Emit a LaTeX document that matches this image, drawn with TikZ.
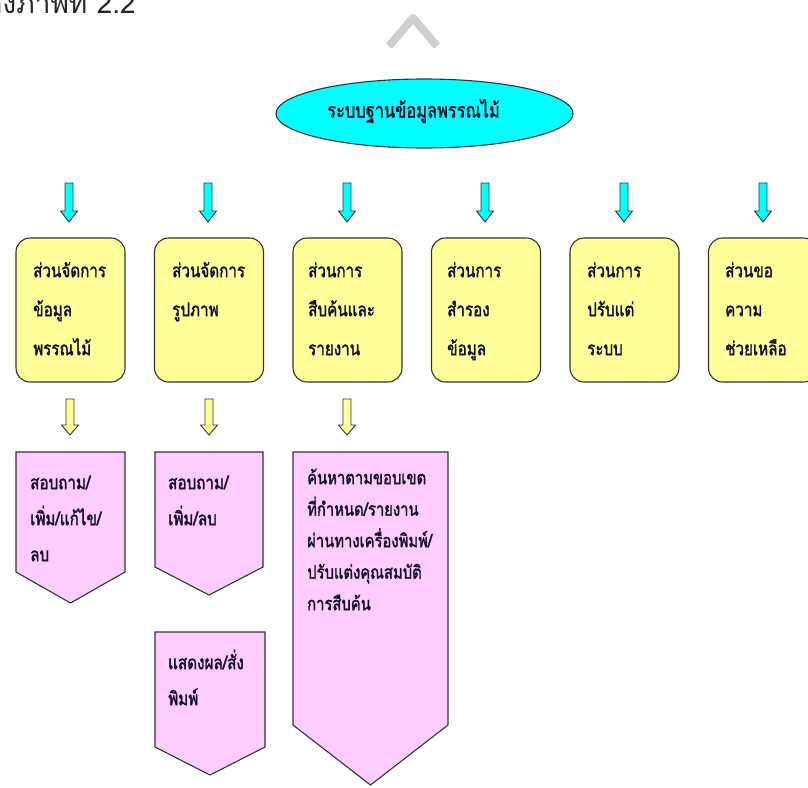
\documentclass[tikz,border=0pt]{standalone}
\usepackage{fontspec}
\usetikzlibrary{shapes.geometric,calc}
\newfontfamily\thaicap[Script=Thai]{Loma}
\newfontfamily\thaib[Script=Thai,FakeBold=1.6,FakeStretch=0.8]{Loma}

% block arrow pointing down: centre x, top y, tip y, head length, style
\newcommand\blockdown[5]{%
  \draw[#5] ({#1-4},#2) -- ({#1+4},#2) -- ({#1+4},{#3-#4}) -- ({#1+8.5},{#3-#4})
    -- (#1,#3) -- ({#1-8.5},{#3-#4}) -- ({#1-4},{#3-#4}) -- cycle;}
% pentagon pointing down: left, right, top, side bottom, tip
\newcommand\pentagondown[5]{%
  \draw[pentbox] (#1,#3) -- (#2,#3) -- (#2,#4) -- ({(#1+#2)/2},#5) -- (#1,#4) -- cycle;}

\begin{document}
\begin{tikzpicture}[x=1pt,y=-1pt,
  outline/.style={draw=black!80,line width=1.1pt},
  ybox/.style={outline,fill=yellowfill,rounded corners=14pt,minimum width=109pt,minimum height=144pt,inner sep=0pt},
  pentbox/.style={outline,fill=pinkfill,line join=miter},
  cyanarrow/.style={outline,line width=0.9pt,fill=cyanfill},
  yelarrow/.style={outline,line width=0.9pt,fill=yellowfill},
  boxtext/.style={anchor=north west,inner sep=0pt,align=left,text=textcol,
    font=\thaib\fontsize{19}{39}\selectfont},
  pinktext/.style={anchor=north west,inner sep=0pt,align=left,text=textcol,
    font=\thaib\fontsize{19}{36}\selectfont},
]
\definecolor{yellowfill}{HTML}{FFFF99}
\definecolor{pinkfill}{HTML}{FFCCFF}
\definecolor{cyanfill}{HTML}{00FFFF}
\definecolor{textcol}{HTML}{10102A}
\clip (0,0) rectangle (808,787);
\fill[white] (0,0) rectangle (808,787);

% caption and page marker
\node[anchor=base east,inner sep=0pt,font=\thaicap\fontsize{28}{30}\selectfont,text=black!85] (cap) at (136,13) {ดังภาพที่ 2.2};
\draw[black!19,line width=8pt,line join=round] (389,46) -- (413,18) -- (437,46);

% root
\node[ellipse,outline,fill=cyanfill,minimum width=297pt,minimum height=69pt] (db) at (424.5,113.5) {};
\node[inner sep=0pt,text=textcol,font=\thaib\fontsize{20.5}{22}\selectfont] (dbt) at (413.5,111) {ระบบฐานข้อมูลพรรณไม้};

% first-level arrows
\foreach \cx in {69,208,347,485,624,763}{\blockdown{\cx}{183}{222}{11}{cyanarrow}}

% first-level boxes
\node[ybox] (s1) at (70.5,310) {};
\node[ybox] (s2) at (209,310) {};
\node[ybox] (s3) at (347.5,310) {};
\node[ybox] (s4) at (486,310) {};
\node[ybox] (s5) at (624.5,310) {};
\node[ybox] (s6) at (763,310) {};

\node[boxtext] (t1) at (33,255) {\rule{0pt}{22pt}ส่วนจัดการ\\ข้อมูล\\พรรณไม้};
\node[boxtext] (t2) at (172,255) {\rule{0pt}{22pt}ส่วนจัดการ\\รูปภาพ};
\node[boxtext] (t3) at (308,255) {\rule{0pt}{22pt}ส่วนการ\\สืบค้นและ\\รายงาน};
\node[boxtext] (t4) at (447,255) {\rule{0pt}{22pt}ส่วนการ\\สำรอง\\ข้อมูล};
\node[boxtext] (t5) at (587,255) {\rule{0pt}{22pt}ส่วนการ\\ปรับแต่\\ระบบ};
\node[boxtext] (t6) at (725,255) {\rule{0pt}{22pt}ส่วนขอ\\ความ\\ช่วยเหลือ};

% second-level arrows
\foreach \cx in {70,209,347}{\blockdown{\cx}{399}{435}{10}{yelarrow}}

% second-level shapes
\pentagondown{16}{125}{452}{572}{603}
\pentagondown{155}{263}{452}{567}{595}
\pentagondown{293}{448}{452}{725}{785}
\pentagondown{155}{265}{632}{747}{775}

\node[pinktext] (p1) at (30,467) {\rule{0pt}{22pt}สอบถาม/\\เพิ่ม/แก้ไข/\\ลบ};
\node[pinktext] (p2) at (168,467) {\rule{0pt}{22pt}สอบถาม/\\เพิ่ม/ลบ};
\node[pinktext,font=\thaib\fontsize{18.5}{31.5}\selectfont] (p3) at (307,462) {\rule{0pt}{22pt}ค้นหาตามขอบเขต\\ที่กำหนด/รายงาน\\ผ่านทางเครื่องพิมพ์/\\ปรับแต่งคุณสมบัติ\\การสืบค้น};
\node[pinktext] (p4) at (168,647) {\rule{0pt}{22pt}แสดงผล/สั่ง\\พิมพ์};
\end{tikzpicture}
\end{document}
